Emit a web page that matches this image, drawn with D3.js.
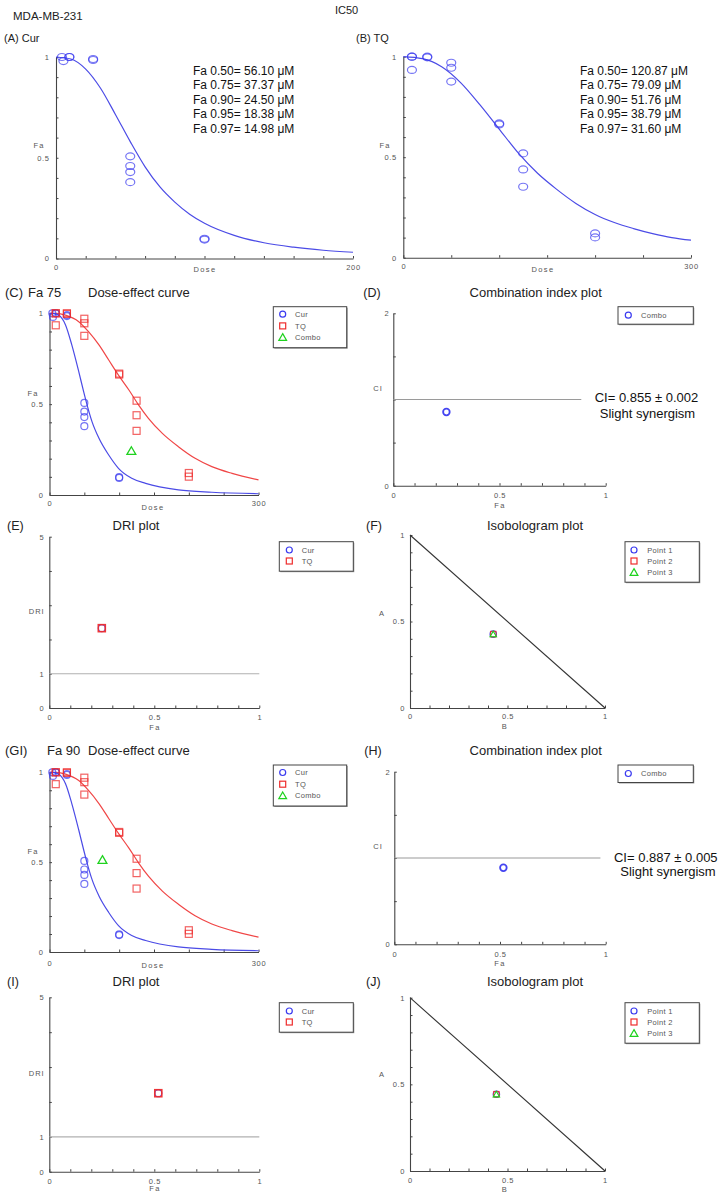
<!DOCTYPE html>
<html><head><meta charset="utf-8">
<script src="https://cdn.jsdelivr.net/npm/d3@7"></script>
<style>
body{margin:0;background:#fff}
svg{display:block}
text{font-family:Arial,"Liberation Sans",sans-serif}
</style>
</head><body>
<svg id="c" width="724" height="1198"></svg>
<script>
// ---------------- DATA ----------------
const curDose = [4, 5, 9, 9, 25, 25, 50, 50, 50, 50, 100, 100];
const curFa   = [1.0, 0.98, 1.0, 1.0, 0.99, 0.985, 0.507, 0.459, 0.429, 0.379, 0.098, 0.094];
const tqDose  = [9, 9, 9, 25, 25, 50, 50, 50, 100, 100, 125, 125, 125, 200, 200];
const tqFa    = [1.0, 1.0, 0.934, 1.0, 0.997, 0.97, 0.945, 0.876, 0.663, 0.668, 0.519, 0.439, 0.353, 0.121, 0.101];

const curveA_x = [0, 10, 20, 30, 40, 50, 60, 70, 80, 90, 100, 120, 140, 160, 180, 200];
const curveA_y = [1.0, 0.99, 0.94, 0.845, 0.715, 0.58, 0.455, 0.355, 0.28, 0.22, 0.175, 0.115, 0.078, 0.056, 0.041, 0.031];
const curveB_x = [0, 20, 40, 60, 80, 100, 120, 140, 160, 180, 200, 220, 240, 260, 280, 300];
const curveB_y = [1.0, 0.99, 0.95, 0.87, 0.76, 0.64, 0.52, 0.42, 0.34, 0.27, 0.215, 0.175, 0.145, 0.12, 0.10, 0.087];
const curveCurC_x = [0, 5, 13, 23, 32, 42, 49, 54, 61, 71, 85, 99, 118, 138, 185, 233, 300];
const curveCurC_y = [1.0, 1.0, 0.99, 0.936, 0.826, 0.679, 0.569, 0.495, 0.404, 0.312, 0.22, 0.147, 0.092, 0.064, 0.028, 0.015, 0.007];
const curveTqC_x  = [0, 10, 23, 42, 56, 71, 85, 99, 114, 128, 142, 162, 185, 209, 233, 262, 300];
const curveTqC_y  = [1.0, 1.0, 0.99, 0.954, 0.899, 0.826, 0.743, 0.66, 0.578, 0.495, 0.422, 0.339, 0.266, 0.202, 0.156, 0.119, 0.083];

const combo75Dose = [117.5], combo75Fa = [0.242];
const combo90Dose = [76],    combo90Fa = [0.512];

const ci75Fa = [0.25],  ci75 = [0.855];
const ci90Fa = [0.516], ci90 = [0.887];
const dri75Fa = [0.25],  dri75Cur = [2.33], dri75Tq = [2.33];
const dri90Fa = [0.519], dri90Cur = [2.25], dri90Tq = [2.25];
const iso75B = [0.427], iso75A = [0.427];
const iso90B = [0.443], iso90A = [0.443];

const icCur = ["Fa 0.50= 56.10 \u03bcM", "Fa 0.75= 37.37 \u03bcM", "Fa 0.90= 24.50 \u03bcM", "Fa 0.95= 18.38 \u03bcM", "Fa 0.97= 14.98 \u03bcM"];
const icTq  = ["Fa 0.50= 120.87  \u03bcM", "Fa 0.75= 79.09 \u03bcM", "Fa 0.90= 51.76 \u03bcM", "Fa 0.95= 38.79 \u03bcM", "Fa 0.97= 31.60 \u03bcM"];
const legDose = ["Cur", "TQ", "Combo"];
const legCI = ["Combo"];
const legDRI = ["Cur", "TQ"];
const legIso = ["Point 1", "Point 2", "Point 3"];

// ---------------- DRAW ----------------
const svg = d3.select("#c");
const BLUE = "#3a3af0", RED = "#ee2c2c", GREEN = "#1fd21f";
const AX = "#444", LBL = "#555";

function txt(x, y, s, size, anchor, fill, ls) {
  return svg.append("text").attr("x", x).attr("y", y).attr("font-size", size)
    .attr("text-anchor", anchor || "start").attr("fill", fill || "#1a1a1a")
    .attr("letter-spacing", ls || 0).text(s);
}

function styleAxis(sel) {
  sel.attr("font-family", null).attr("font-size", null);
  sel.selectAll(".domain").attr("stroke", AX).attr("stroke-width", 1.1);
  sel.selectAll(".tick line").attr("stroke", AX).attr("stroke-width", 1);
  sel.selectAll("text").attr("font-size", 7.5).attr("fill", LBL).attr("letter-spacing", 0.6);
}

function panel(o) {
  const g = svg.append("g");
  const xs = d3.scaleLinear().domain(o.xd).range(o.xr);
  const ys = d3.scaleLinear().domain(o.yd).range(o.yr);
  g.append("g").attr("transform", `translate(0,${o.yr[0]})`)
    .call(d3.axisBottom(xs).tickValues(o.xt).tickSize(-2.5).tickSizeOuter(0).tickFormat(""))
    .call(styleAxis);
  g.append("g").attr("transform", `translate(${o.xr[0]},0)`)
    .call(d3.axisLeft(ys).tickValues(o.yt).tickSize(-2.5).tickSizeOuter(0).tickFormat(""))
    .call(styleAxis);
  g.append("g").attr("transform", `translate(0,${o.yr[0]})`)
    .call(d3.axisBottom(xs).tickValues(o.xl).tickSize(0).tickPadding(o.xpad).tickFormat(d => String(d)))
    .call(styleAxis).call(s => s.select(".domain").remove());
  g.append("g").attr("transform", `translate(${o.xr[0]},0)`)
    .call(d3.axisLeft(ys).tickValues(o.yl).tickSize(0).tickPadding(o.ypad).tickFormat(d => String(d)))
    .call(styleAxis).call(s => s.select(".domain").remove());
  txt(o.xT[0], o.xT[1], o.xT[2], 7.5, "middle", LBL, 1.4);
  txt(o.yT[0], o.yT[1], o.yT[2], 7.5, "middle", LBL, 1.0);
  return { g, xs, ys };
}

function circles(g, xs, ys, xa, ya, rx, ry, color, sw, op) {
  g.append("g").selectAll("ellipse").data(d3.zip(xa, ya)).join("ellipse")
    .attr("cx", d => xs(d[0])).attr("cy", d => ys(d[1]))
    .attr("rx", rx).attr("ry", ry).attr("fill", "none")
    .attr("stroke", color).attr("stroke-width", sw).attr("stroke-opacity", op);
}
function squares(g, xs, ys, xa, ya, s, color, sw, op) {
  g.append("g").selectAll("rect").data(d3.zip(xa, ya)).join("rect")
    .attr("x", d => xs(d[0]) - s / 2).attr("y", d => ys(d[1]) - s / 2)
    .attr("width", s).attr("height", s).attr("fill", "none")
    .attr("stroke", color).attr("stroke-width", sw).attr("stroke-opacity", op);
}
function triangles(g, xs, ys, xa, ya, area, color, sw) {
  g.append("g").selectAll("path").data(d3.zip(xa, ya)).join("path")
    .attr("transform", d => `translate(${xs(d[0])},${ys(d[1]) + 0.8})`)
    .attr("d", d3.symbol(d3.symbolTriangle, area)())
    .attr("fill", "none").attr("stroke", color).attr("stroke-width", sw);
}
function curve(g, xs, ys, xa, ya, color) {
  g.append("path").datum(d3.zip(xa, ya))
    .attr("d", d3.line().x(d => xs(d[0])).y(d => ys(d[1])).curve(d3.curveMonotoneX))
    .attr("fill", "none").attr("stroke", color).attr("stroke-width", 1.2);
}
function legend(x0, y0, x1, y1, mx, tx, ys, labels, kinds) {
  svg.append("rect").attr("x", x0 + 1).attr("y", y0 + 1).attr("width", x1 - x0).attr("height", y1 - y0)
    .attr("fill", "#999");
  svg.append("rect").attr("x", x0).attr("y", y0).attr("width", x1 - x0).attr("height", y1 - y0)
    .attr("fill", "#fff").attr("stroke", "#444").attr("stroke-width", 1);
  labels.forEach((l, i) => {
    const k = kinds[i], y = ys[i];
    if (k === "c") svg.append("circle").attr("cx", mx).attr("cy", y).attr("r", 3).attr("fill", "none").attr("stroke", BLUE).attr("stroke-width", 1.2);
    if (k === "s") svg.append("rect").attr("x", mx - 3).attr("y", y - 3).attr("width", 6).attr("height", 6).attr("fill", "none").attr("stroke", RED).attr("stroke-width", 1.2);
    if (k === "t") svg.append("path").attr("transform", `translate(${mx},${y + 0.8})`).attr("d", d3.symbol(d3.symbolTriangle, 26)()).attr("fill", "none").attr("stroke", GREEN).attr("stroke-width", 1.2);
    txt(tx, y + 2.6, l, 7.5, "start", LBL, 0.3);
  });
}

const r01 = d3.range(0, 1.0001, 0.1).map(v => +v.toFixed(2));

// ---- header ----
txt(13, 20, "MDA-MB-231", 11.5, "start", "#222");
txt(335, 14, "IC50", 11, "start", "#222");

// ---- A ----
txt(4, 42, "(A) Cur", 11, "start", "#222");
{
  const p = panel({ xd: [0, 200], xr: [56, 353], yd: [0, 1], yr: [258.5, 57],
    xt: d3.range(0, 201, 20), yt: r01, xl: [0, 200], yl: [0, 0.5, 1], xpad: 6, ypad: 6.5,
    xT: [205, 272, "Dose"], yT: [39, 147.5, "Fa"] });
  curve(p.g, p.xs, p.ys, curveA_x, curveA_y, "#4b4be6");
  circles(p.g, p.xs, p.ys, curDose, curFa, 4.5, 3.5, BLUE, 1.2, 0.7);
  icCur.forEach((s, i) => txt(193, 74.5 + i * 14.5, s, 12, "start", "#111"));
}
// ---- B ----
txt(356, 42, "(B) TQ", 11, "start", "#222");
{
  const p = panel({ xd: [0, 300], xr: [403.3, 691], yd: [0, 1], yr: [257.7, 56.7],
    xt: d3.range(0, 301, 50), yt: r01, xl: [0, 300], yl: [0, 0.5, 1], xpad: 6, ypad: 6.5,
    xT: [543, 272, "Dose"], yT: [385, 147.5, "Fa"] });
  curve(p.g, p.xs, p.ys, curveB_x, curveB_y, "#4b4be6");
  circles(p.g, p.xs, p.ys, tqDose, tqFa, 4.5, 3.5, BLUE, 1.2, 0.7);
  icTq.forEach((s, i) => txt(580, 74.5 + i * 14.5, s, 12, "start", "#111"));
}

// ---- dose-effect panels C and G ----
function dosePanel(yTop, yBot, tag, fa, faX, comboD, comboF, legY, titleY, xTy, yTy, xpad) {
  txt(5, titleY, tag, 13, "start", "#222");
  txt(faX, titleY, fa, 13, "start", "#222");
  txt(88, titleY, "Dose-effect curve", 13, "start", "#222");
  const p = panel({ xd: [0, 300], xr: [49.5, 258.5], yd: [0, 1], yr: [yBot, yTop],
    xt: d3.range(0, 301, 50), yt: r01, xl: [0, 300], yl: [0, 0.5, 1], xpad: xpad, ypad: 6,
    xT: [153, xTy, "Dose"], yT: [33, yTy, "Fa"] });
  curve(p.g, p.xs, p.ys, curveTqC_x, curveTqC_y, "#f04646");
  curve(p.g, p.xs, p.ys, curveCurC_x, curveCurC_y, "#4b4be6");
  circles(p.g, p.xs, p.ys, curDose, curFa, 3.5, 3.5, BLUE, 1.2, 0.7);
  squares(p.g, p.xs, p.ys, tqDose, tqFa, 7, RED, 1.2, 0.75);
  triangles(p.g, p.xs, p.ys, comboD, comboF, 34, GREEN, 1.3);
  legend(273.3, legY, 346.7, legY + 41, 282.7, 295, [legY + 7.5, legY + 19.2, legY + 30.6], legDose, ["c", "s", "t"]);
}
dosePanel(313.3, 495, "(C)", "Fa 75", 28, combo75Dose, combo75Fa, 306.7, 296.5, 509.5, 395.5, 6);
dosePanel(772.3, 952, "(GI)", "Fa 90", 47, combo90Dose, combo90Fa, 765, 754.5, 967.5, 853.5, 8.5);

// ---- CI panels D and H ----
function ciPanel(x0, yTop, yBot, tag, titleY, fa, ci, lineEnd, legY, t1, t2, xTy, yTy) {
  txt(x0 - 30, titleY, tag, 12.5, "start", "#222");
  txt(535.7, titleY, "Combination index plot", 13, "middle", "#222");
  const p = panel({ xd: [0, 1], xr: [x0, 605.7], yd: [0, 2], yr: [yBot, yTop],
    xt: r01, yt: [0, 0.5, 1, 1.5, 2], xl: [0, 0.5, 1], yl: [0, 2], xpad: 7, ypad: 4,
    xT: [500, xTy, "Fa"], yT: [378, yTy, "CI"] });
  p.g.append("line").attr("x1", p.xs(0)).attr("x2", p.xs(lineEnd)).attr("y1", p.ys(1)).attr("y2", p.ys(1))
    .attr("stroke", "#9a9a9a").attr("stroke-width", 1.1);
  circles(p.g, p.xs, p.ys, fa, ci, 3.3, 3.3, BLUE, 1.8, 0.95);
  legend(618, legY, 693.3, legY + 17.5, 628.3, 641, [legY + 8.5], legCI, ["c"]);
  txt(t1[0], t1[1], t1[2], 13, "middle", "#111");
  txt(t2[0], t2[1], "Slight synergism", 13, "middle", "#111");
}
ciPanel(393.3, 313.3, 485.7, "(D)", 296.5, ci75Fa, ci75, 0.885, 306.7,
  [646.5, 401.5, "CI= 0.855  \u00b1 0.002"], [647.5, 418], 507.5, 390.5);
ciPanel(394.3, 771.7, 944.3, "(H)", 754.5, ci90Fa, ci90, 0.975, 765,
  [665.8, 861.5, "CI= 0.887  \u00b1 0.005"], [668, 876], 965.5, 849);

// ---- DRI panels E and I ----
function driPanel(yTop, yBot, tag, titleY, fa, dc, dt, legY, xTy, yTy, xpad) {
  txt(7, titleY, tag, 12.5, "start", "#222");
  txt(136, titleY, "DRI plot", 13, "middle", "#222");
  const p = panel({ xd: [0, 1], xr: [49.3, 259.3], yd: [0, 5], yr: [yBot, yTop],
    xt: r01, yt: [0, 1, 2, 3, 4, 5], xl: [0, 0.5, 1], yl: [0, 1, 5], xpad: xpad, ypad: 5,
    xT: [155, xTy, "Fa"], yT: [36.7, yTy, "DRI"] });
  p.g.append("line").attr("x1", p.xs(0)).attr("x2", p.xs(1)).attr("y1", p.ys(1)).attr("y2", p.ys(1))
    .attr("stroke", "#b0b0b0").attr("stroke-width", 1.2);
  circles(p.g, p.xs, p.ys, fa, dc, 3.5, 3.5, BLUE, 1.3, 0.9);
  squares(p.g, p.xs, p.ys, fa, dt, 7, RED, 1.6, 0.95);
  legend(279.3, legY, 353.3, legY + 29.5, 289.3, 301.7, [legY + 8.3, legY + 19.3], legDRI, ["c", "s"]);
}
driPanel(536.7, 708, "(E)", 529.5, dri75Fa, dri75Cur, dri75Tq, 541.7, 730, 614, 7);
driPanel(997.3, 1171.7, "(I)", 986, dri90Fa, dri90Cur, dri90Tq, 1002.7, 1190.5, 1075.5, 6.5);

// ---- Isobologram panels F and J ----
function isoPanel(yTop, yBot, tag, titleY, b, a, legY, xTy, yTy, xpad) {
  txt(366, titleY, tag, 12.5, "start", "#222");
  txt(535, titleY, "Isobologram plot", 13, "middle", "#222");
  const p = panel({ xd: [0, 1], xr: [410, 605], yd: [0, 1], yr: [yBot, yTop],
    xt: r01, yt: r01, xl: [0, 0.5, 1], yl: [0, 0.5, 1], xpad: xpad, ypad: 5,
    xT: [505, xTy, "B"], yT: [382, yTy, "A"] });
  p.g.append("line").attr("x1", p.xs(0)).attr("y1", p.ys(1)).attr("x2", p.xs(1)).attr("y2", p.ys(0))
    .attr("stroke", "#333").attr("stroke-width", 1.1);
  circles(p.g, p.xs, p.ys, b, a, 3.2, 3.2, BLUE, 1.2, 0.9);
  squares(p.g, p.xs, p.ys, b, a, 5.5, RED, 1.1, 0.85);
  triangles(p.g, p.xs, p.ys, b, a, 18, GREEN, 1.1);
  legend(625, legY, 699.3, legY + 40.5, 634, 647.3, [legY + 8.3, legY + 19.3, legY + 30.6], legIso, ["c", "s", "t"]);
}
isoPanel(535, 708, "(F)", 529.5, iso75B, iso75A, 541.7, 728.5, 615.5, 6);
isoPanel(997.7, 1171, "(J)", 986, iso90B, iso90A, 1002.7, 1191.5, 1076.5, 6.5);
</script>
</body></html>
